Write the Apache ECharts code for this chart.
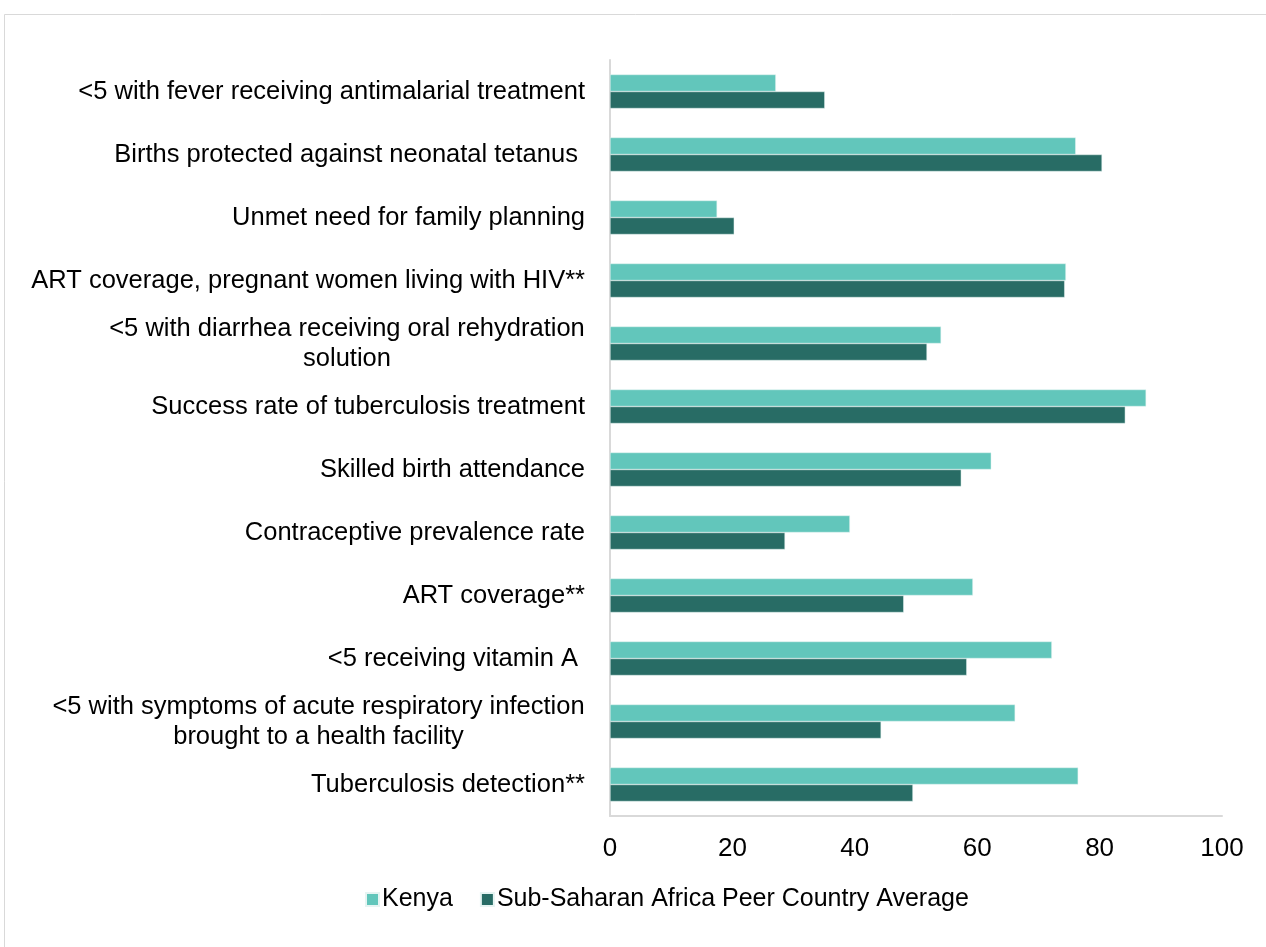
<!DOCTYPE html>
<html><head><meta charset="utf-8">
<script src="https://cdn.jsdelivr.net/npm/echarts@6/dist/echarts.min.js"></script>
<style>html,body{margin:0;padding:0;background:#fff}#c{width:1266px;height:947px}</style>
</head><body><div id="c"></div>
<script>
const categories = [
  "<5 with fever receiving antimalarial treatment",
  "Births protected against neonatal tetanus ",
  "Unmet need for family planning",
  "ART coverage, pregnant women living with HIV**",
  "<5 with diarrhea receiving oral rehydration\nsolution",
  "Success rate of tuberculosis treatment",
  "Skilled birth attendance",
  "Contraceptive prevalence rate",
  "ART coverage**",
  "<5 receiving vitamin A ",
  "<5 with symptoms of acute respiratory infection\nbrought to a health facility",
  "Tuberculosis detection**"
];
const kenya = [27.1, 76.1, 17.5, 74.5, 54.1, 87.6, 62.3, 39.2, 59.3, 72.2, 66.2, 76.5];
const ssaAverage = [35.1, 80.4, 20.3, 74.3, 51.8, 84.2, 57.4, 28.6, 48.0, 58.3, 44.3, 49.5];
const xTicks = { min: 0, max: 100, interval: 20 };
const seriesNames = ["Kenya", "Sub-Saharan Africa Peer Country Average"];

const FONT = "Liberation Sans";
const LABEL_SIZE = 25.5;
const mctx = document.createElement('canvas').getContext('2d');
mctx.font = LABEL_SIZE + 'px "' + FONT + '"';
const rich = {};
const labelKey = {};
categories.forEach((c, i) => {
  if (c.indexOf('\n') >= 0) {
    const w = Math.max(...c.split('\n').map(l => mctx.measureText(l).width));
    rich['m' + i] = { width: Math.ceil(w), align: 'center', fontSize: LABEL_SIZE, fontFamily: FONT, color: '#000', lineHeight: 30 };
    labelKey[c] = 'm' + i;
  }
});

const chart = echarts.init(document.getElementById('c'), null, { renderer: 'canvas' });
chart.setOption({
  animation: false,
  backgroundColor: '#fff',
  graphic: [{
    type: 'rect', shape: { x: 4.5, y: 14.5, width: 1300, height: 1000 },
    style: { fill: 'none', stroke: '#d9d9d9', lineWidth: 1 }, silent: true, z: -10
  }],
  grid: { left: 610, right: 44, top: 60, bottom: 131, containLabel: false },
  legend: {
    data: seriesNames, bottom: 30, left: 360, itemWidth: 13, itemHeight: 13, itemGap: 27,
    icon: 'rect',
    textStyle: { fontFamily: FONT, fontSize: 25, color: '#000', padding: [0, 0, 0, -2] }
  },
  xAxis: {
    type: 'value', min: xTicks.min, max: xTicks.max, interval: xTicks.interval,
    axisLine: { show: true, lineStyle: { color: '#d9d9d9', width: 2 } },
    axisTick: { show: false },
    splitLine: { show: false },
    axisLabel: { fontFamily: FONT, fontSize: 26, color: '#000', margin: 20 }
  },
  yAxis: {
    type: 'category', data: categories, inverse: true,
    axisLine: { show: true, lineStyle: { color: '#d9d9d9', width: 2 } },
    axisTick: { show: false },
    axisLabel: {
      fontFamily: FONT, fontSize: LABEL_SIZE, color: '#000', margin: 25, lineHeight: 30,
      formatter: v => labelKey[v] ? v.split('\n').map(l => '{' + labelKey[v] + '|' + l + '}').join('\n') : v,
      rich: rich
    }
  },
  series: [
    { name: seriesNames[0], type: 'bar', data: kenya, barGap: '0%', barCategoryGap: '46%',
      itemStyle: { color: '#62C6BB', borderColor: '#e6f4f2', borderWidth: 0.5 } },
    { name: seriesNames[1], type: 'bar', data: ssaAverage, barGap: '0%', barCategoryGap: '46%',
      itemStyle: { color: '#286C65', borderColor: '#e6f4f2', borderWidth: 0.5 } }
  ]
});
</script></body></html>
